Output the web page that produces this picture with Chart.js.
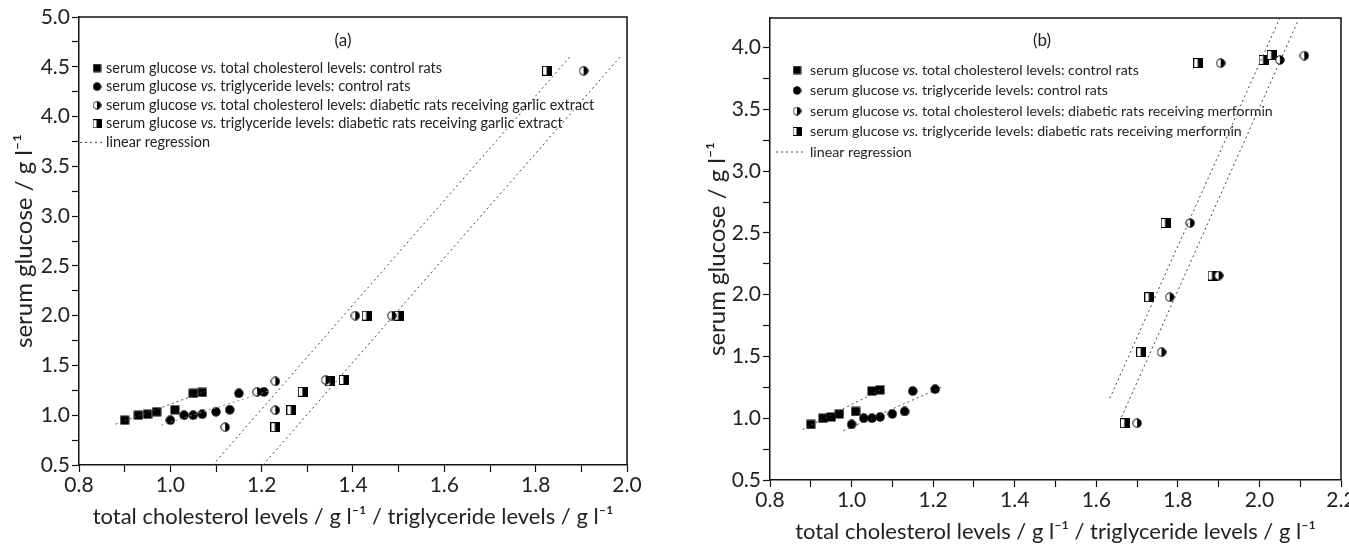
<!DOCTYPE html>
<html>
<head>
<meta charset="utf-8">
<script src="https://cdn.jsdelivr.net/npm/chart.js@4/dist/chart.umd.min.js"></script>
<style>
  body { margin: 0; background: #fff; width: 1349px; height: 546px; overflow: hidden; position: relative; }
  #wrapA { position: absolute; left: 0; top: 0; width: 660px; height: 546px; }
  #wrapB { position: absolute; left: 690px; top: 0; width: 659px; height: 546px; }
</style>
</head>
<body>
<div id="wrapA"><canvas id="chartA"></canvas></div>
<div id="wrapB"><canvas id="chartB"></canvas></div>
<script>
// control rats (same in both panels)
const ctrlCholX = [0.90, 0.93, 0.95, 0.97, 1.01, 1.05, 1.07];
const ctrlCholY = [0.95, 1.00, 1.01, 1.035, 1.055, 1.22, 1.23];
const ctrlTrigX = [1.00, 1.03, 1.05, 1.07, 1.10, 1.13, 1.15, 1.205];
const ctrlTrigY = [0.95, 1.00, 1.00, 1.01, 1.035, 1.055, 1.22, 1.235];

// panel (a): diabetic rats receiving garlic extract
const garlicCholX = [1.12, 1.19, 1.23, 1.23, 1.34, 1.405, 1.485, 1.905];
const garlicCholY = [0.88, 1.235, 1.05, 1.34, 1.355, 2.00, 2.00, 4.46];
const garlicTrigX = [1.23, 1.265, 1.29, 1.35, 1.38, 1.43, 1.50, 1.825];
const garlicTrigY = [0.88, 1.05, 1.235, 1.34, 1.355, 2.00, 2.00, 4.46];

// panel (b): diabetic rats receiving merformin
const merfCholX = [1.70, 1.76, 1.78, 1.83, 1.90, 1.905, 2.05, 2.11];
const merfCholY = [0.96, 1.535, 1.98, 2.58, 2.155, 3.875, 3.90, 3.935];
const merfTrigX = [1.67, 1.71, 1.73, 1.77, 1.885, 1.85, 2.01, 2.03];
const merfTrigY = [0.96, 1.535, 1.98, 2.58, 2.155, 3.875, 3.90, 3.94];

// linear regression end points
const regCtrlCholX = [0.88, 1.08];
const regCtrlCholY = [0.91, 1.245];
const regCtrlTrigX = [0.98, 1.22];
const regCtrlTrigY = [0.90, 1.25];
const regGarlicAX = [1.093, 1.875];
const regGarlicAY = [0.50, 4.60];
const regGarlicBX = [1.203, 1.985];
const regGarlicBY = [0.50, 4.60];
const regMerfAX = [1.633, 2.05];
const regMerfAY = [1.16, 4.24];
const regMerfBX = [1.662, 2.095];
const regMerfBY = [1.01, 4.22];

// axis ticks
const xTicksA = [0.8, 1.0, 1.2, 1.4, 1.6, 1.8, 2.0];
const yTicksA = [0.5, 1.0, 1.5, 2.0, 2.5, 3.0, 3.5, 4.0, 4.5, 5.0];
const xTicksB = [0.8, 1.0, 1.2, 1.4, 1.6, 1.8, 2.0, 2.2];
const yTicksB = [0.5, 1.0, 1.5, 2.0, 2.5, 3.0, 3.5, 4.0];

const legendA = [
  ['square', 'serum glucose ', 'vs.', ' total cholesterol levels: control rats'],
  ['circle', 'serum glucose ', 'vs.', ' triglyceride levels: control rats'],
  ['halfCircle', 'serum glucose ', 'vs.', ' total cholesterol levels: diabetic rats receiving garlic extract'],
  ['halfSquare', 'serum glucose ', 'vs.', ' triglyceride levels: diabetic rats receiving garlic extract'],
  ['line', 'linear regression', '', '']
];
const legendB = [
  ['square', 'serum glucose ', 'vs.', ' total cholesterol levels: control rats'],
  ['circle', 'serum glucose ', 'vs.', ' triglyceride levels: control rats'],
  ['halfCircle', 'serum glucose ', 'vs.', ' total cholesterol levels: diabetic rats receiving merformin'],
  ['halfSquare', 'serum glucose ', 'vs.', ' triglyceride levels: diabetic rats receiving merformin'],
  ['line', 'linear regression', '', '']
];

const FONT = 'Lato, "Open Sans", sans-serif';
const TEXT = '#222';

function zip(xs, ys) { return xs.map((x, i) => ({ x: x, y: ys[i] })); }

function marker(kind, s) {
  const c = document.createElement('canvas');
  c.width = s; c.height = s;
  const g = c.getContext('2d');
  const m = s / 2;
  g.fillStyle = '#000'; g.strokeStyle = '#000'; g.lineWidth = 1;
  if (kind === 'square') {
    g.fillRect(0.5, 0.5, s - 1, s - 1);
  } else if (kind === 'circle') {
    g.beginPath(); g.arc(m, m, m - 0.3, 0, Math.PI * 2); g.fill();
  } else if (kind === 'halfCircle') {
    g.beginPath(); g.arc(m, m, m - 0.8, 0, Math.PI * 2);
    g.fillStyle = '#fff'; g.fill(); g.stroke();
    g.beginPath(); g.arc(m, m, m - 0.8, -Math.PI / 2, Math.PI / 2); g.closePath();
    g.fillStyle = '#000'; g.fill();
  } else {
    g.fillStyle = '#fff'; g.fillRect(0.5, 0.5, s - 1, s - 1);
    g.strokeRect(0.5, 0.5, s - 1, s - 1);
    g.fillStyle = '#000'; g.fillRect(m - 0.5, 0.5, m, s - 1);
  }
  return c;
}

const mk = {
  square: marker('square', 10),
  circle: marker('circle', 10),
  halfCircle: marker('halfCircle', 10),
  halfSquare: marker('halfSquare', 10)
};

function pts(label, xs, ys, style) {
  return { label: label, data: zip(xs, ys), pointStyle: mk[style], pointRadius: 5, showLine: false };
}
function reg(label, xs, ys, color) {
  return {
    label: label, data: zip(xs, ys), showLine: true, pointRadius: 0,
    borderColor: color || '#444', borderWidth: 1, borderDash: [2, 3], fill: false
  };
}

function isMajor(v, list) { return list.some(t => Math.abs(t - v) < 1e-6); }

// frame, legend and panel label
function decorations(opts) {
  return {
    id: 'decor' + opts.tag,
    afterDraw(chart) {
      const ctx = chart.ctx;
      const a = chart.chartArea;
      ctx.save();
      ctx.strokeStyle = '#111';
      ctx.lineWidth = 1.5;
      ctx.beginPath();
      ctx.moveTo(a.left, a.top); ctx.lineTo(a.right, a.top); ctx.lineTo(a.right, a.bottom);
      ctx.stroke();

      ctx.fillStyle = TEXT;
      ctx.textBaseline = 'middle';
      ctx.textAlign = 'center';
      ctx.font = opts.tagSize + 'px ' + FONT;
      ctx.fillText('(' + opts.tag + ')', opts.tagX, opts.tagY);

      ctx.textAlign = 'left';
      opts.legend.forEach((row, i) => {
        const y = opts.legY + i * opts.legGap;
        if (row[0] === 'line') {
          ctx.strokeStyle = '#444'; ctx.lineWidth = 1; ctx.setLineDash([2, 3]);
          ctx.beginPath(); ctx.moveTo(opts.lineX0, y); ctx.lineTo(opts.lineX1, y); ctx.stroke();
          ctx.setLineDash([]);
        } else {
          const im = mk[row[0]];
          const w = im.width - 1;
          ctx.drawImage(im, opts.markX - w / 2, y - w / 2, w, w);
        }
        let x = opts.textX;
        ctx.font = opts.legSize + 'px ' + FONT;
        ctx.fillText(row[1], x, y); x += ctx.measureText(row[1]).width;
        if (row[2]) {
          ctx.font = 'italic ' + opts.legSize + 'px ' + FONT;
          ctx.fillText(row[2], x, y); x += ctx.measureText(row[2]).width;
          ctx.font = opts.legSize + 'px ' + FONT;
          ctx.fillText(row[3], x, y);
        }
      });
      ctx.restore();
    }
  };
}

function axes(cfg) {
  return {
    x: {
      type: 'linear', min: cfg.xMin, max: cfg.xMax,
      border: { color: '#111', width: 1.5 },
      grid: { drawOnChartArea: false, drawTicks: true, tickLength: 7, color: '#111', tickWidth: 1.2 },
      ticks: {
        stepSize: 0.1, autoSkip: false, maxRotation: 0, color: TEXT, padding: cfg.xTickPad,
        font: { family: FONT, size: cfg.tickSize },
        callback: v => isMajor(v, cfg.xTicks) ? v.toFixed(1) : ''
      },
      title: {
        display: true, text: 'total cholesterol levels / g l\u207B\u00B9 / triglyceride levels / g l\u207B\u00B9',
        color: TEXT, font: { family: FONT, size: cfg.titleSize }, padding: { top: 0, bottom: cfg.xTitlePad }
      },
      afterFit: s => { s.height = cfg.xH; s.paddingLeft = 0; s.paddingRight = 0; }
    },
    y: {
      type: 'linear', min: cfg.yMin, max: cfg.yMax,
      border: { color: '#111', width: 1.5 },
      grid: { drawOnChartArea: false, drawTicks: true, tickLength: 7, color: '#111', tickWidth: 1.2 },
      ticks: {
        stepSize: 0.25, autoSkip: false, color: TEXT, padding: 2,
        font: { family: FONT, size: cfg.tickSize },
        callback: v => isMajor(v, cfg.yTicks) ? v.toFixed(1) : ''
      },
      afterBuildTicks: s => { s.ticks = s.ticks.filter(t => t.value <= cfg.yTicks[cfg.yTicks.length - 1] + 1e-6); },
      title: {
        display: true, text: 'serum glucose / g l\u207B\u00B9',
        color: TEXT, font: { family: FONT, size: cfg.yTitleSize }, padding: { top: cfg.yTitlePad, bottom: 0 }
      },
      afterFit: s => { s.width = cfg.yW; s.paddingTop = 0; s.paddingBottom = 0; }
    }
  };
}

const baseOpts = {
  responsive: true,
  maintainAspectRatio: false,
  animation: false,
  plugins: { legend: { display: false }, tooltip: { enabled: false } }
};

new Chart(document.getElementById('chartA'), {
  type: 'scatter',
  data: {
    datasets: [
      reg('fit control cholesterol', regCtrlCholX, regCtrlCholY),
      reg('fit control triglyceride', regCtrlTrigX, regCtrlTrigY, '#888'),
      reg('fit garlic triglyceride', regGarlicAX, regGarlicAY),
      reg('fit garlic cholesterol', regGarlicBX, regGarlicBY),
      pts('control cholesterol', ctrlCholX, ctrlCholY, 'square'),
      pts('control triglyceride', ctrlTrigX, ctrlTrigY, 'circle'),
      pts('garlic cholesterol', garlicCholX, garlicCholY, 'halfCircle'),
      pts('garlic triglyceride', garlicTrigX, garlicTrigY, 'halfSquare')
    ]
  },
  options: Object.assign({}, baseOpts, {
    layout: { padding: { top: 17, right: 33, left: 0, bottom: 0 } },
    scales: axes({ xMin: 0.8, xMax: 2.0, yMin: 0.5, yMax: 5.0, xTicks: xTicksA, yTicks: yTicksA,
      tickSize: 21, titleSize: 22, yTitleSize: 24, xH: 81, yW: 79, xTitlePad: 16, yTitlePad: 10, xTickPad: 1 })
  }),
  plugins: [decorations({ tag: 'a', tagX: 343, tagY: 41, tagSize: 17, legend: legendA,
    legY: 68, legGap: 18.6, markX: 97, textX: 106, lineX0: 80, lineX1: 104, legSize: 14.5 })]
});

new Chart(document.getElementById('chartB'), {
  type: 'scatter',
  data: {
    datasets: [
      reg('fit control cholesterol', regCtrlCholX, regCtrlCholY),
      reg('fit control triglyceride', regCtrlTrigX, regCtrlTrigY),
      reg('fit merformin triglyceride', regMerfAX, regMerfAY),
      reg('fit merformin cholesterol', regMerfBX, regMerfBY),
      pts('control cholesterol', ctrlCholX, ctrlCholY, 'square'),
      pts('control triglyceride', ctrlTrigX, ctrlTrigY, 'circle'),
      pts('merformin cholesterol', merfCholX, merfCholY, 'halfCircle'),
      pts('merformin triglyceride', merfTrigX, merfTrigY, 'halfSquare')
    ]
  },
  options: Object.assign({}, baseOpts, {
    layout: { padding: { top: 18, right: 8, left: 0, bottom: 0 } },
    scales: axes({ xMin: 0.8, xMax: 2.2, yMin: 0.5, yMax: 4.24, xTicks: xTicksB, yTicks: yTicksB,
      tickSize: 21, titleSize: 22, yTitleSize: 24, xH: 66, yW: 80, xTitlePad: 1, yTitlePad: 13, xTickPad: 1 })
  }),
  plugins: [decorations({ tag: 'b', tagX: 352, tagY: 41, tagSize: 17, legend: legendB,
    legY: 70, legGap: 20.5, markX: 107, textX: 120, lineX0: 86, lineX1: 116, legSize: 14.2 })]
});
</script>
</body>
</html>
